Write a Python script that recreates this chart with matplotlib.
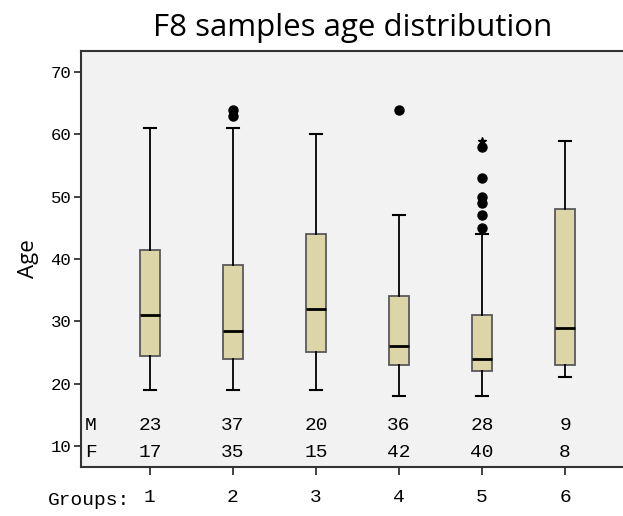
import matplotlib
matplotlib.use('Agg')
import matplotlib.pyplot as plt
from matplotlib.transforms import blended_transform_factory

# box statistics
groups = [1, 2, 3, 4, 5, 6]
whis_lo = [19, 19, 19, 18, 18, 21]
q1 = [24.5, 24, 25, 23, 22, 23]
medians = [31, 28.5, 32, 26, 24, 29]
q3 = [41.5, 39, 44, 34, 31, 48]
whis_hi = [61, 61, 60, 47, 44, 59]
outliers = [[], [63, 64], [], [64], [45, 47, 49, 50, 53, 58], []]
extremes = [[], [], [], [], [59], []]
count_m = [23, 37, 20, 36, 28, 9]
count_f = [17, 35, 15, 42, 40, 8]

mono = 'Liberation Mono'
sans = 'Open Sans'

fig = plt.figure(figsize=(6.23, 5.16), dpi=100)
ax = fig.add_axes([81 / 623, 1 - 467 / 516, 553 / 623, 416 / 516])
ax.set_facecolor('#f2f2f2')

stats = []
for i in range(len(groups)):
    stats.append({
        'whislo': whis_lo[i], 'q1': q1[i], 'med': medians[i],
        'q3': q3[i], 'whishi': whis_hi[i], 'fliers': outliers[i],
    })

ax.bxp(stats, positions=groups, widths=0.25, capwidths=0.14,
       patch_artist=True, showfliers=True,
       boxprops=dict(facecolor='#dbd5a7', edgecolor='#5a5a5a', linewidth=1.3),
       medianprops=dict(color='black', linewidth=2),
       whiskerprops=dict(color='black', linewidth=1.3),
       capprops=dict(color='black', linewidth=1.5),
       flierprops=dict(marker='o', markerfacecolor='black', markeredgecolor='black',
                       markersize=6.5, linestyle='none'))

for g, ext in zip(groups, extremes):
    if ext:
        ax.plot([g] * len(ext), ext, marker='*', color='black', markersize=6,
                linestyle='none')

# sample counts per sex inside the plot
for g, m, f in zip(groups, count_m, count_f):
    ax.text(g, 13.3, str(m), ha='center', va='center', family=mono, fontsize=14)
    ax.text(g, 8.9, str(f), ha='center', va='center', family=mono, fontsize=14)
ax.text(0.22, 13.3, 'M', ha='left', va='center', family=mono, fontsize=14)
ax.text(0.22, 8.9, 'F', ha='left', va='center', family=mono, fontsize=14)

ax.set_xlim(0.17, 6.83)
ax.set_ylim(6.6, 73.4)
ax.set_yticks([10, 20, 30, 40, 50, 60, 70])
ax.set_xticks(groups)
ax.set_xticklabels([str(g) for g in groups], family=mono, fontsize=14)
ax.set_yticklabels(['10', '20', '30', '40', '50', '60', '70'], family=mono, fontsize=12.5)
ax.tick_params(axis='x', length=6, width=1.2, color='#222222', pad=10)
ax.tick_params(axis='y', length=5, width=1.2, color='#222222', pad=2)
trans = blended_transform_factory(ax.transData, ax.transAxes)
ax.text(0.76, -0.08, 'Groups:', transform=trans, ha='right', va='center',
        family=mono, fontsize=14)

for side in ['left', 'bottom', 'top']:
    ax.spines[side].set_color('#333333')
    ax.spines[side].set_linewidth(1.5)
ax.spines['right'].set_visible(False)

ax.set_ylabel('Age', family=sans, fontsize=16, labelpad=8)
fig.text(353 / 623, 1 - 28 / 516, 'F8 samples age distribution', ha='center',
         va='center', family=sans, fontsize=22.5)

plt.savefig('out.png', dpi=100)
plt.close()
